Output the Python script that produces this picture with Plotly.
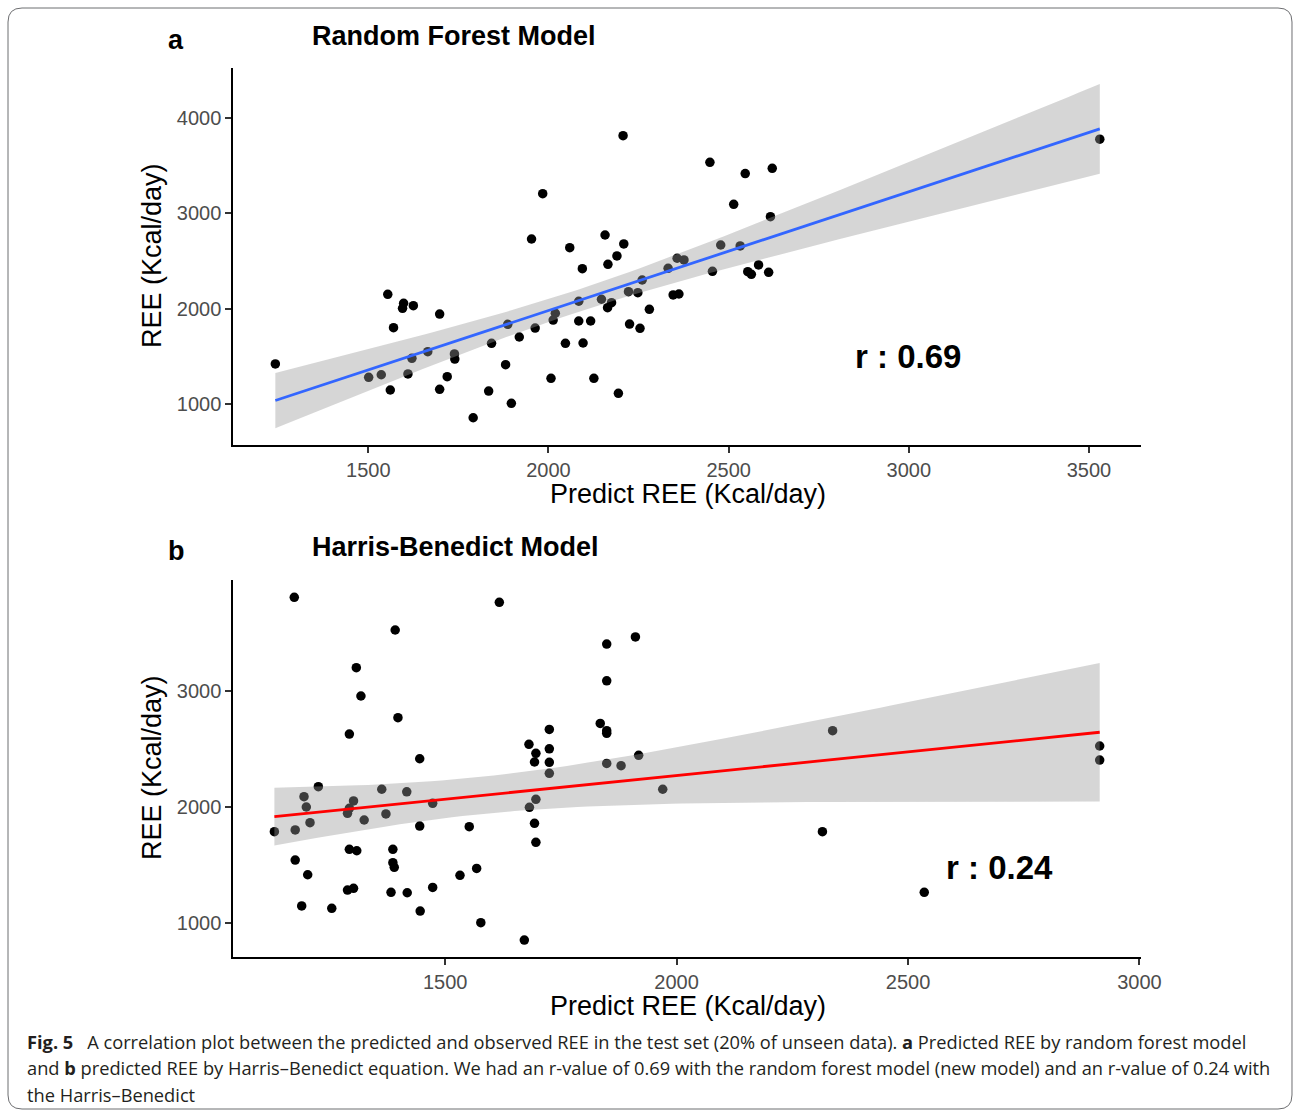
import numpy as np
import plotly.graph_objects as go

REF_W, H = 1293, 1113
FIG_W = 1315  # compensates the horizontal squeeze observed in the capture

# ---------------- data ----------------
rf_pred = [1242, 1501, 1536, 1554, 1561, 1570, 1598, 1595, 1625, 1610, 1621, 1665, 1698, 1698,
           1719, 1739, 1740, 1791, 1834, 1842, 1881, 1887, 1897, 1919, 1953, 1963, 1984, 2007,
           2013, 2019, 2047, 2059, 2084, 2084, 2094, 2096, 2117, 2126, 2147, 2157, 2165, 2164,
           2175, 2190, 2194, 2207, 2209, 2222, 2225, 2248, 2254, 2260, 2280, 2332, 2357, 2346,
           2362, 2376, 2448, 2514, 2546, 2621, 2616, 2478, 2532, 2455, 2553, 2563, 2583, 2611, 3530]
rf_obs = [1420, 1280, 1307, 2151, 1147, 1801, 2057, 2004, 2032, 1315, 1479, 1549, 1944, 1154,
          1287, 1525, 1472, 856, 1136, 1637, 1413, 1836, 1007, 1703, 2731, 1797, 3207, 1270,
          1881, 1952, 1637, 2640, 1871, 2078, 2420, 1640, 1871, 1270, 2099, 2773, 2466, 2011,
          2063, 2553, 1112, 3815, 2679, 2178, 1839, 2168, 1794, 2301, 1993, 2424, 2529, 2144,
          2154, 2511, 3536, 3095, 3417, 3473, 2965, 2668, 2658, 2392, 2388, 2361, 2459, 2382, 3778]

hb_pred = [1174, 1617, 1392, 1849, 1911, 1308, 1318, 1849, 1398, 1293, 1835, 1849, 1849, 1725,
           1681, 1696, 1693, 1725, 1725, 1725, 1445, 1849, 1880, 1918, 1970, 1226, 1195, 1200,
           1208, 1176, 1131, 1363, 1417, 1302, 1293, 1289, 1325, 1372, 1473, 1445, 1552, 1682,
           1696, 1693, 1696, 1176, 1203, 1293, 1309, 1387, 1387, 1390, 1532, 1568, 1289, 1302,
           1383, 1418, 1473, 1190, 1255, 1446, 1577, 1671, 2337, 2914, 2914, 2315, 2535]
hb_obs = [3808, 3765, 3526, 3405, 3466, 3201, 2957, 3088, 2770, 2629, 2721, 2658, 2635, 2669,
          2540, 2463, 2388, 2502, 2385, 2290, 2416, 2376, 2356, 2446, 2153, 2175, 2089, 2000,
          1865, 1802, 1787, 2153, 2131, 2052, 1989, 1946, 1888, 1940, 2032, 1836, 1830, 1997,
          2066, 1859, 1696, 1543, 1416, 1635, 1623, 1635, 1520, 1480, 1411, 1471, 1284, 1299,
          1265, 1261, 1307, 1147, 1127, 1103, 1003, 853, 2658, 2526, 2405, 1787, 1265]

panel_letters = ["a", "b"]
panel_titles = ["Random Forest Model", "Harris-Benedict Model"]
r_labels = ["r : 0.69", "r : 0.24"]
x_title = "Predict REE (Kcal/day)"
y_title = "REE (Kcal/day)"
rf_xticks = [1500, 2000, 2500, 3000, 3500]
rf_yticks = [1000, 2000, 3000, 4000]
hb_xticks = [1500, 2000, 2500, 3000]
hb_yticks = [1000, 2000, 3000]

caption_lines = [
    "<b>Fig. 5</b>\u2002 A correlation plot between the predicted and observed REE in the test set (20% of unseen data). <b>a</b> Predicted REE by random forest model",
    "and <b>b</b> predicted REE by Harris\u2013Benedict equation. We had an r-value of 0.69 with the random forest model (new model) and an r-value of 0.24 with",
    "the Harris\u2013Benedict",
]

T975 = 1.996  # t quantile (0.975, ~67 df) used by a 95% confidence band


def lm_band(x, y, n_out=80):
    x = np.asarray(x, float)
    y = np.asarray(y, float)
    n = len(x)
    b1, b0 = np.polyfit(x, y, 1)
    res = y - (b0 + b1 * x)
    s = np.sqrt(np.sum(res ** 2) / (n - 2))
    xbar = x.mean()
    sxx = np.sum((x - xbar) ** 2)
    xs = np.linspace(x.min(), x.max(), n_out)
    yh = b0 + b1 * xs
    se = s * np.sqrt(1.0 / n + (xs - xbar) ** 2 / sxx)
    return xs, yh, yh - T975 * se, yh + T975 * se


def px(v):
    return v / REF_W


def py(v):
    return 1 - v / H


FONT = "Liberation Sans, Arial, Helvetica, sans-serif"
CAP_FONT = "Open Sans, Noto Sans, sans-serif"

fig = go.Figure()

panels = [
    dict(x=rf_pred, y=rf_obs, color="#3366FF", xa="x", ya="y"),
    dict(x=hb_pred, y=hb_obs, color="#FF0000", xa="x2", ya="y2"),
]
for p in panels:
    fig.add_trace(go.Scatter(x=p["x"], y=p["y"], mode="markers", xaxis=p["xa"], yaxis=p["ya"],
                             marker=dict(size=9.5, color="black", line=dict(width=0)),
                             showlegend=False, hoverinfo="skip"))
    xs, yh, lo, hi = lm_band(p["x"], p["y"])
    fig.add_trace(go.Scatter(x=np.concatenate([xs, xs[::-1]]), y=np.concatenate([hi, lo[::-1]]),
                             mode="lines", fill="toself", fillcolor="rgba(153,153,153,0.4)",
                             line=dict(width=0), xaxis=p["xa"], yaxis=p["ya"],
                             showlegend=False, hoverinfo="skip"))
    fig.add_trace(go.Scatter(x=xs, y=yh, mode="lines", line=dict(color=p["color"], width=2.8),
                             xaxis=p["xa"], yaxis=p["ya"], showlegend=False, hoverinfo="skip"))

axis_common = dict(showline=True, linecolor="black", linewidth=1.8, ticks="outside", ticklen=6,
                   tickwidth=1.5, tickcolor="#333333", showgrid=False, zeroline=False,
                   tickfont=dict(family=FONT, size=20, color="#4D4D4D"), fixedrange=True)

fig.update_layout(
    width=FIG_W, height=H, autosize=False, margin=dict(l=0, r=0, t=0, b=0),
    paper_bgcolor="white", plot_bgcolor="white",
    xaxis=dict(domain=[px(233), px(1140)], range=[1125, 3644], tickvals=rf_xticks, anchor="y", **axis_common),
    yaxis=dict(domain=[py(445), py(68)], range=[570, 4525], tickvals=rf_yticks, anchor="x", **axis_common),
    xaxis2=dict(domain=[px(233), px(1140)], range=[1042, 3003], tickvals=hb_xticks, anchor="y2", **axis_common),
    yaxis2=dict(domain=[py(957), py(580)], range=[707, 3957], tickvals=hb_yticks, anchor="x2", **axis_common),
)

ann = []
# panel letters and titles
for letter, title, ly in zip(panel_letters, panel_titles, [40, 551]):
    ann.append(dict(text="<b>%s</b>" % letter, x=px(176), y=py(ly), xref="paper", yref="paper",
                    showarrow=False, xanchor="center", yanchor="middle",
                    font=dict(family=FONT, size=27, color="black")))
    ann.append(dict(text="<b>%s</b>" % title, x=px(310), y=py(ly - 4), xref="paper", yref="paper",
                    showarrow=False, xanchor="left", yanchor="middle",
                    font=dict(family=FONT, size=27, color="black")))
# axis titles
for cy_x, cy_y in [(494, 256), (1006, 768)]:
    ann.append(dict(text=x_title, x=px(687), y=py(cy_x), xref="paper", yref="paper", showarrow=False,
                    xanchor="center", yanchor="middle", font=dict(family=FONT, size=27, color="black")))
    ann.append(dict(text=y_title, x=px(152), y=py(cy_y), xref="paper", yref="paper", showarrow=False,
                    textangle=-90, xanchor="center", yanchor="middle",
                    font=dict(family=FONT, size=27, color="black")))
# r labels
for lab, cx, cy in zip(r_labels, [907, 999], [357, 867]):
    ann.append(dict(text="<b>%s</b>" % lab, x=px(cx), y=py(cy), xref="paper", yref="paper",
                    showarrow=False, xanchor="center", yanchor="middle",
                    font=dict(family=FONT, size=33, color="black")))
# caption
for i, line in enumerate(caption_lines):
    ann.append(dict(text=line, x=px(25), y=py(1041 + 26.5 * i), xref="paper", yref="paper",
                    showarrow=False, xanchor="left", yanchor="middle",
                    font=dict(family=CAP_FONT, size=18.25, color="#231F20")))
fig.update_layout(annotations=ann)

# rounded frame around the figure
x0, x1 = px(8), px(1291)
yt, yb = py(8), py(1109)
rx, ry = 14 / REF_W, 14 / H
path = (f"M {x0+rx},{yt} L {x1-rx},{yt} Q {x1},{yt} {x1},{yt-ry} L {x1},{yb+ry} "
        f"Q {x1},{yb} {x1-rx},{yb} L {x0+rx},{yb} Q {x0},{yb} {x0},{yb+ry} "
        f"L {x0},{yt-ry} Q {x0},{yt} {x0+rx},{yt} Z")
fig.add_shape(type="path", path=path, xref="paper", yref="paper",
              line=dict(color="#6D6E71", width=1))

post = ("document.documentElement.style.overflow='hidden';"
        "document.body.style.margin='0';document.body.style.overflow='hidden';")
fig.write_html("out.html", config={"responsive": False, "displayModeBar": False},
               default_width="%dpx" % FIG_W, default_height="%dpx" % H, post_script=post)
